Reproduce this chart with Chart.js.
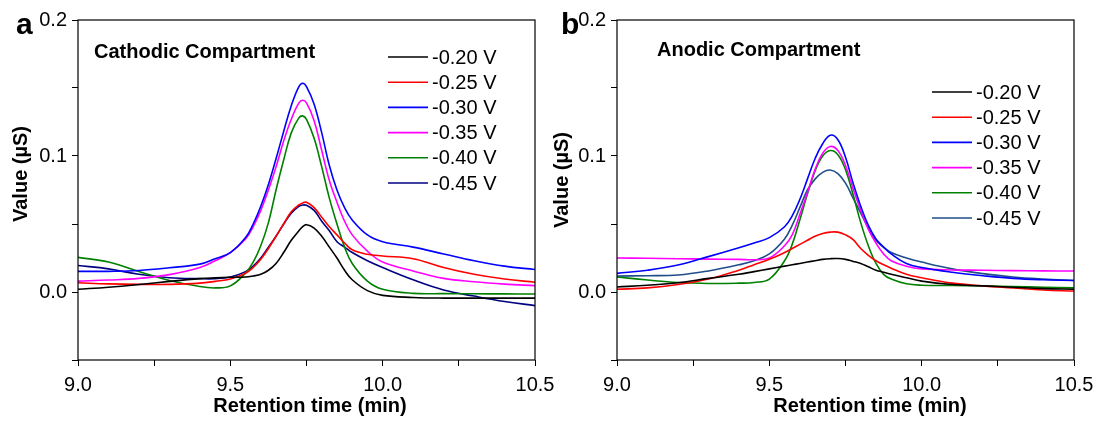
<!DOCTYPE html>
<html>
<head>
<meta charset="utf-8">
<script src="https://cdn.jsdelivr.net/npm/chart.js@4"></script>
<style>
  body { margin: 0; background: #fff; }
  .panel { position: absolute; top: 0; }
</style>
</head>
<body>
<canvas id="chart_a" class="panel" width="570" height="422" style="left:0"></canvas>
<canvas id="chart_b" class="panel" width="550" height="422" style="left:550px"></canvas>
<script>
// retention time (min) and conductivity (µS)
const voltages = ['-0.20 V', '-0.25 V', '-0.30 V', '-0.35 V', '-0.40 V', '-0.45 V'];

const timeA = [9.0, 9.1, 9.2, 9.3, 9.4, 9.45, 9.5, 9.55, 9.575, 9.6, 9.625, 9.65, 9.675, 9.7, 9.725, 9.7375,
    9.75, 9.775, 9.8, 9.825, 9.85, 9.875, 9.9, 9.95, 10.0, 10.1, 10.2, 10.3, 10.4, 10.5];
const cath020 = [0.002, 0.0035, 0.0055, 0.0078, 0.0098, 0.0104, 0.0108, 0.011, 0.0118, 0.013, 0.016, 0.021, 0.029, 0.038, 0.045, 0.048,
    0.0495, 0.047, 0.041, 0.033, 0.025, 0.016, 0.009, 0.001, -0.0025, -0.004, -0.0045, -0.0045, -0.0045, -0.0045];
const cath025 = [0.0068, 0.006, 0.0056, 0.0056, 0.0065, 0.0078, 0.0095, 0.0138, 0.018, 0.024, 0.032, 0.041, 0.05, 0.059, 0.064, 0.0655,
    0.066, 0.062, 0.055, 0.048, 0.042, 0.036, 0.031, 0.0277, 0.0265, 0.0245, 0.018, 0.013, 0.0095, 0.0072];
const cath030 = [0.0152, 0.0152, 0.0158, 0.0178, 0.0205, 0.0245, 0.029, 0.04, 0.05, 0.063, 0.079, 0.098, 0.118, 0.137, 0.151, 0.1535,
    0.151, 0.138, 0.117, 0.093, 0.075, 0.062, 0.053, 0.042, 0.037, 0.033, 0.028, 0.023, 0.019, 0.0165];
const cath035 = [0.008, 0.0088, 0.01, 0.0128, 0.018, 0.023, 0.029, 0.039, 0.048, 0.06, 0.075, 0.092, 0.111, 0.127, 0.139, 0.141,
    0.139, 0.126, 0.104, 0.082, 0.066, 0.052, 0.042, 0.03, 0.022, 0.0155, 0.01, 0.0075, 0.0058, 0.0047];
const cath040 = [0.0255, 0.022, 0.015, 0.0085, 0.004, 0.003, 0.0045, 0.014, 0.022, 0.034, 0.051, 0.075, 0.097, 0.117, 0.128, 0.1295,
    0.127, 0.113, 0.092, 0.069, 0.05, 0.033, 0.021, 0.008, 0.002, -0.001, -0.0012, -0.0013, -0.0014, -0.0015];
const cath045 = [0.0195, 0.017, 0.013, 0.0105, 0.0098, 0.0098, 0.011, 0.015, 0.019, 0.025, 0.033, 0.041, 0.05, 0.058, 0.063, 0.064,
    0.0638, 0.06, 0.052, 0.045, 0.037, 0.033, 0.029, 0.023, 0.018, 0.009, 0.0015, -0.003, -0.007, -0.01];

const timeB = [9.0, 9.1, 9.2, 9.3, 9.4, 9.45, 9.5, 9.55, 9.575, 9.6, 9.625, 9.65, 9.675, 9.7, 9.725,
    9.75, 9.775, 9.8, 9.825, 9.85, 9.875, 9.9, 9.95, 10.0, 10.1, 10.2, 10.3, 10.4, 10.5];
const anod020 = [0.0037, 0.005, 0.0068, 0.01, 0.013, 0.015, 0.017, 0.019, 0.02, 0.021, 0.022, 0.023, 0.024, 0.0245, 0.0246,
    0.024, 0.0225, 0.021, 0.0185, 0.016, 0.0145, 0.013, 0.0105, 0.008, 0.0055, 0.0045, 0.0035, 0.0025, 0.002];
const anod025 = [0.002, 0.003, 0.0055, 0.0095, 0.016, 0.02, 0.024, 0.029, 0.032, 0.035, 0.038, 0.041, 0.043, 0.044, 0.044,
    0.042, 0.0385, 0.032, 0.027, 0.023, 0.02, 0.0175, 0.013, 0.0105, 0.0065, 0.0045, 0.003, 0.0015, 0.0007];
const anod030 = [0.0137, 0.016, 0.0198, 0.026, 0.0325, 0.036, 0.04, 0.048, 0.056, 0.068, 0.083, 0.098, 0.109, 0.1153, 0.112,
    0.099, 0.08, 0.063, 0.049, 0.039, 0.033, 0.028, 0.021, 0.018, 0.0145, 0.012, 0.01, 0.009, 0.0085];
const anod035 = [0.025, 0.0248, 0.0245, 0.0242, 0.024, 0.0237, 0.025, 0.034, 0.042, 0.057, 0.073, 0.09, 0.102, 0.107, 0.104,
    0.093, 0.076, 0.06, 0.046, 0.036, 0.028, 0.023, 0.019, 0.017, 0.0162, 0.016, 0.0157, 0.0155, 0.0154];
const anod040 = [0.011, 0.0088, 0.007, 0.0063, 0.0065, 0.007, 0.0095, 0.023, 0.035, 0.053, 0.072, 0.089, 0.1, 0.104, 0.101,
    0.09, 0.0715, 0.051, 0.034, 0.021, 0.013, 0.0095, 0.006, 0.005, 0.0048, 0.0045, 0.004, 0.0035, 0.003];
const anod045 = [0.0117, 0.012, 0.0125, 0.0155, 0.02, 0.023, 0.028, 0.039, 0.049, 0.062, 0.075, 0.083, 0.088, 0.0897, 0.087,
    0.08, 0.069, 0.058, 0.047, 0.038, 0.033, 0.029, 0.025, 0.022, 0.017, 0.0135, 0.011, 0.0095, 0.0085];

const coloursA = ['#000000', '#ff0000', '#0000ff', '#ff00ff', '#008000', '#000080'];
const coloursB = ['#000000', '#ff0000', '#0000ff', '#ff00ff', '#008000', '#1f4e89'];

const FONT = "'Liberation Sans', Arial, sans-serif";

function pontos (tempos, valores) {
    return tempos.map((t, i) => ({ x: t, y: valores[i] }));
}

function multiplo (v, passo) {
    const r = v / passo;
    return Math.abs(r - Math.round(r)) < 1e-6;
}

// box, panel letter, compartment name, legend and axis titles
const painelPlugin = {
    id: 'painel',
    afterDraw (chart, args, opts) {
        const ctx = chart.ctx;
        const a = chart.chartArea;
        ctx.save();
        ctx.strokeStyle = '#000';
        ctx.lineWidth = 1.2;
        ctx.strokeRect(a.left, a.top, a.right - a.left, a.bottom - a.top);

        ctx.fillStyle = '#000';
        ctx.textBaseline = 'alphabetic';
        ctx.textAlign = 'left';
        ctx.font = 'bold 30px ' + FONT;
        ctx.fillText(opts.letra, opts.letraX, 34);

        ctx.textBaseline = 'middle';
        ctx.font = 'bold 20px ' + FONT;
        ctx.fillText(opts.titulo, opts.tituloX, opts.tituloY);

        // legend from the datasets
        ctx.font = '20px ' + FONT;
        chart.data.datasets.forEach((ds, i) => {
            const y = opts.legY + i * 25.2;
            ctx.strokeStyle = ds.borderColor;
            ctx.lineWidth = 1.6;
            ctx.beginPath();
            ctx.moveTo(opts.legX, y);
            ctx.lineTo(opts.legX + 40, y);
            ctx.stroke();
            ctx.fillText(ds.label, opts.legX + 44, y + 1);
        });

        ctx.font = 'bold 20px ' + FONT;
        ctx.textAlign = 'center';
        ctx.fillText('Retention time (min)', opts.xTitX, 406);

        ctx.translate(opts.yTitX, opts.yTitY);
        ctx.rotate(-Math.PI / 2);
        ctx.fillText('Value (µS)', 0, 0);
        ctx.restore();
    }
};

function criarGrafico (id, tempos, series, cores, painel, larguraY, direita) {
    const datasets = series.map((s, i) => ({
        label: voltages[i],
        data: pontos(tempos, s),
        borderColor: cores[i],
        borderWidth: 1.6,
        pointRadius: 0,
        fill: false,
        tension: 0.4
    }));

    new Chart(document.getElementById(id), {
        type: 'line',
        data: { datasets: datasets },
        options: {
            responsive: false,
            animation: false,
            layout: { padding: { top: 20, right: direita, left: 0, bottom: 0 } },
            plugins: {
                legend: { display: false },
                tooltip: { enabled: false },
                painel: painel
            },
            scales: {
                x: {
                    type: 'linear',
                    min: 9,
                    max: 10.5,
                    afterFit: (s) => { s.height = 62; s.paddingLeft = 0; s.paddingRight = 0; },
                    border: { display: false },
                    grid: { drawOnChartArea: false, drawTicks: true, tickLength: 6, color: '#000' },
                    ticks: {
                        stepSize: 0.25,
                        autoSkip: false,
                        maxRotation: 0,
                        padding: 7,
                        color: '#000',
                        font: { family: FONT, size: 20 },
                        callback: (v) => multiplo(v, 0.5) ? v.toFixed(1) : ''
                    }
                },
                y: {
                    min: -0.05,
                    max: 0.2,
                    afterFit: (s) => { s.width = larguraY; },
                    border: { display: false },
                    grid: { drawOnChartArea: false, drawTicks: true, tickLength: 6, color: '#000' },
                    ticks: {
                        stepSize: 0.05,
                        autoSkip: false,
                        padding: 5,
                        color: '#000',
                        font: { family: FONT, size: 20 },
                        callback: (v) => multiplo(v, 0.1) ? v.toFixed(1) : ''
                    }
                }
            }
        },
        plugins: [painelPlugin]
    });
}

criarGrafico('chart_a', timeA, [cath020, cath025, cath030, cath035, cath040, cath045], coloursA, {
    letra: 'a', letraX: 16,
    titulo: 'Cathodic Compartment', tituloX: 94, tituloY: 52,
    legX: 388, legY: 57,
    xTitX: 310, yTitX: 21, yTitY: 174
}, 78, 35);

criarGrafico('chart_b', timeB, [anod020, anod025, anod030, anod035, anod040, anod045], coloursB, {
    letra: 'b', letraX: 11,
    titulo: 'Anodic Compartment', tituloX: 107, tituloY: 50,
    legX: 382, legY: 92,
    xTitX: 320, yTitX: 12, yTitY: 180
}, 67, 26);
</script>
</body>
</html>
